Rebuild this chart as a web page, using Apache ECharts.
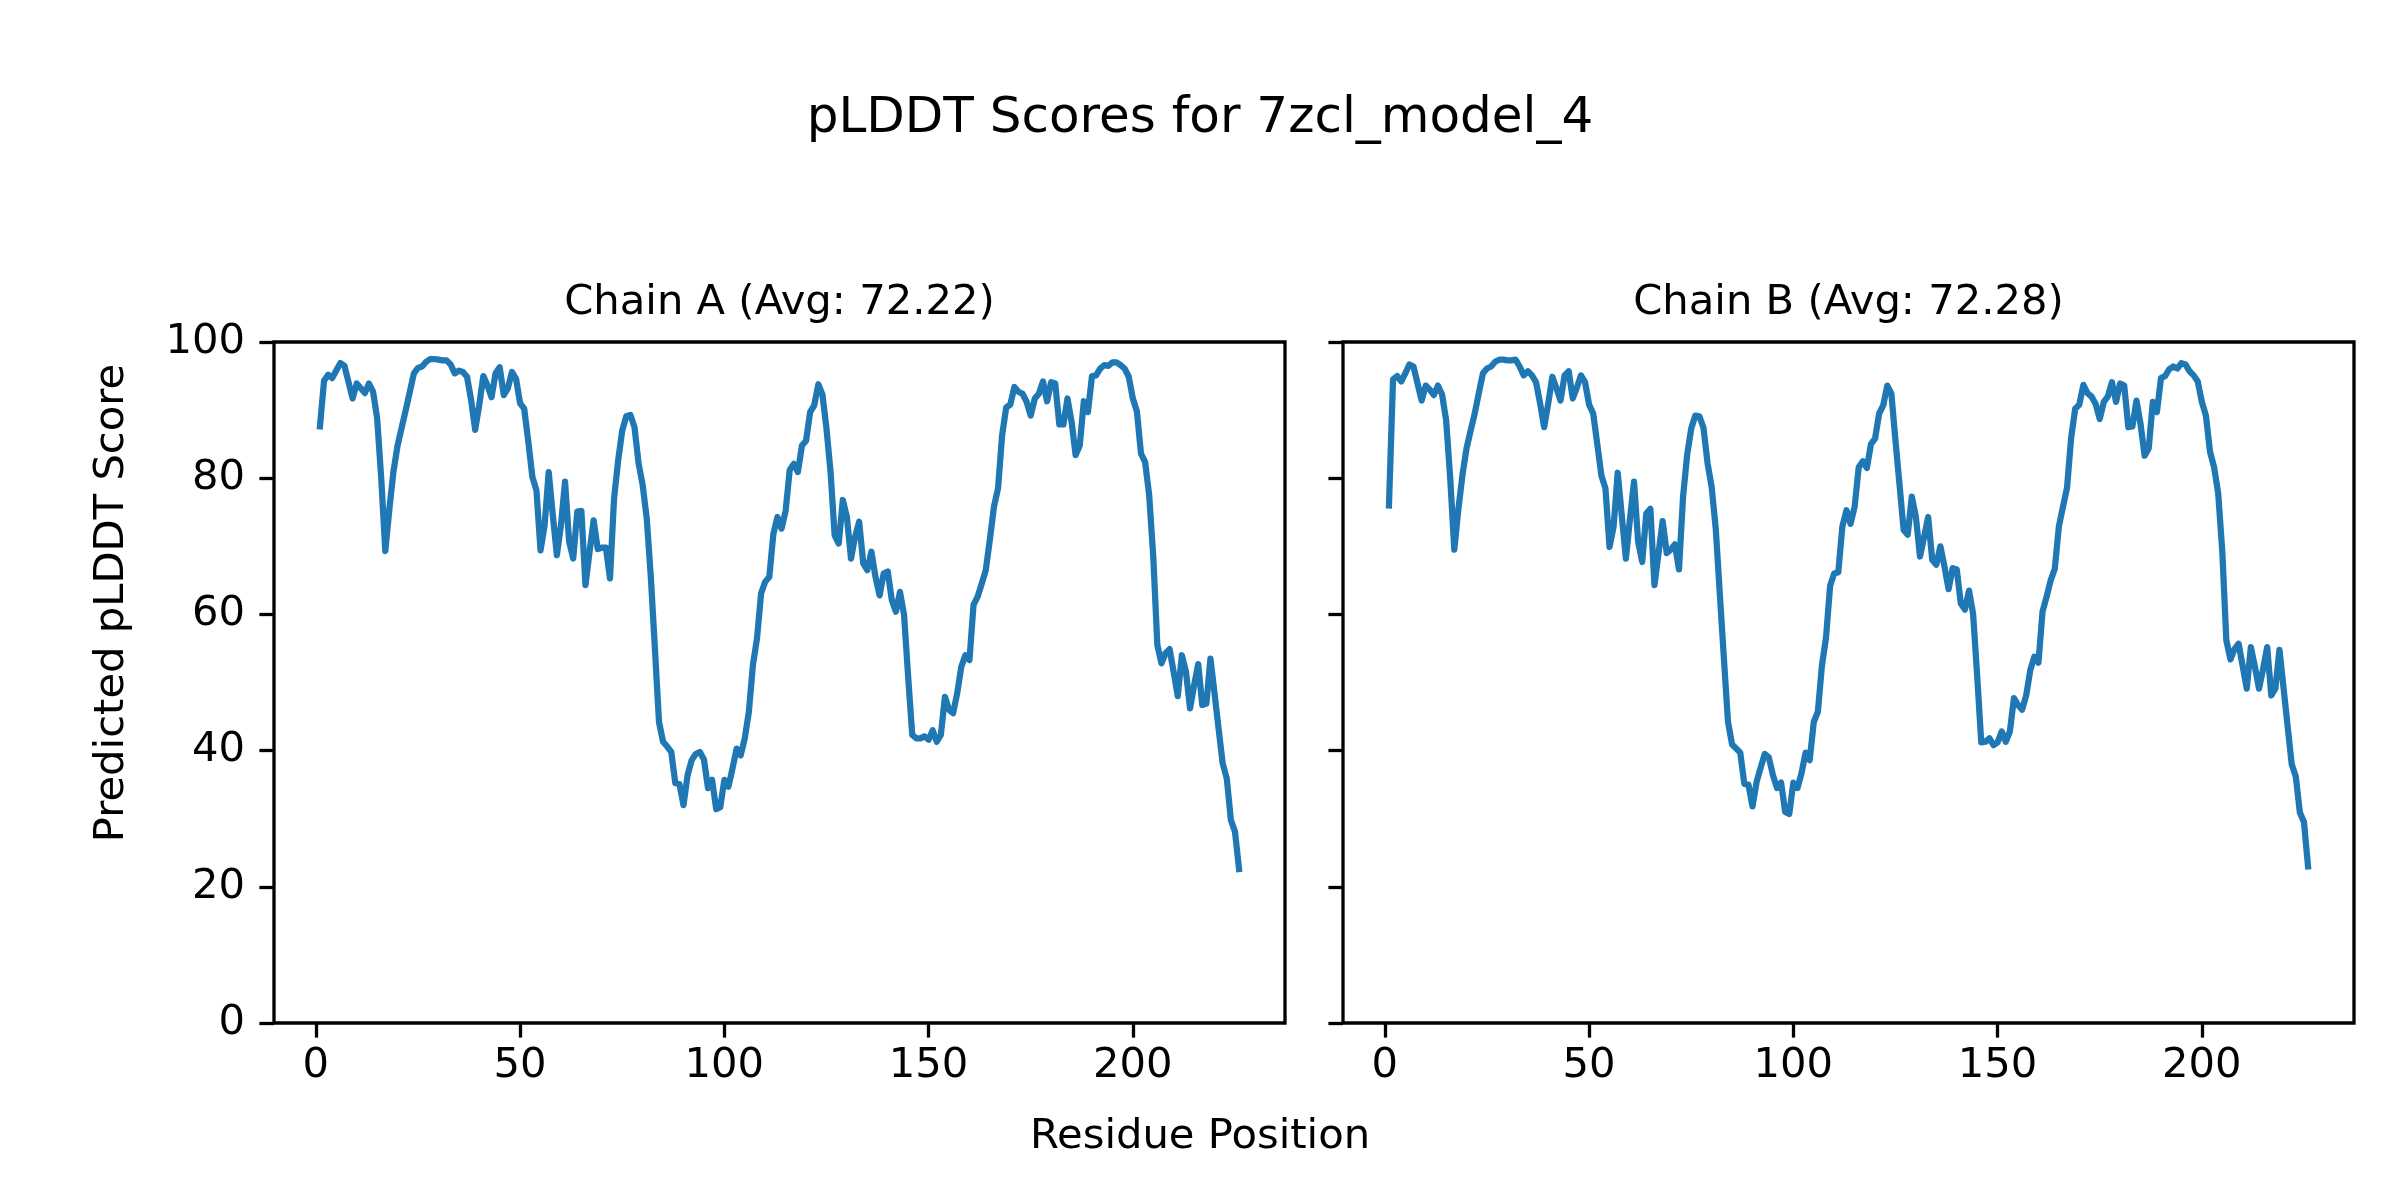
<!DOCTYPE html>
<html>
<head>
<meta charset="utf-8">
<script src="https://cdn.jsdelivr.net/npm/echarts@6/dist/echarts.min.js"></script>
<style>
html,body{margin:0;padding:0;background:#fff;}
#chart{width:2400px;height:1200px;}
</style>
</head>
<body>
<div id="chart"></div>
<script>
const chainA = [87.6,94.3,95.2,94.7,95.8,96.9,96.5,94.1,91.7,93.9,
93.2,92.5,93.9,92.7,88.8,80.0,69.3,75.5,81.0,84.8,
87.4,90.0,92.7,95.4,96.2,96.4,97.1,97.5,97.5,97.4,
97.3,97.3,96.7,95.4,95.8,95.6,94.9,91.5,87.1,90.8,
95.0,93.6,91.9,95.4,96.3,92.2,93.2,95.6,94.6,91.0,
90.2,85.4,80.2,78.2,69.4,73.1,80.9,74.6,68.7,73.1,
79.5,70.7,68.2,75.1,75.2,64.3,69.2,73.8,69.6,69.8,
69.8,65.3,77.0,82.6,87.0,89.1,89.3,87.5,82.2,79.0,
74.1,65.5,55.0,44.2,41.3,40.6,39.8,35.2,35.1,32.0,
36.4,38.6,39.5,39.8,38.7,34.5,35.7,31.4,31.7,35.7,
34.7,37.4,40.3,39.3,41.8,45.7,52.6,56.5,63.1,64.8,
65.5,71.8,74.3,72.6,75.2,81.2,82.1,80.9,84.8,85.5,
89.7,90.7,93.8,92.3,87.3,80.9,71.6,70.4,76.8,74.3,
68.2,71.4,73.6,67.5,66.5,69.2,65.5,62.8,66.0,66.3,
62.1,60.4,63.3,59.9,50.8,42.3,41.8,41.8,42.1,41.6,
43.0,41.3,42.3,47.9,46.0,45.5,48.4,52.3,54.0,53.3,
61.4,62.6,64.5,66.5,71.0,75.8,78.5,86.3,90.4,90.8,
93.4,92.7,92.4,91.2,89.2,91.7,92.4,94.2,91.3,94.1,
93.9,87.9,87.9,91.7,88.3,83.4,84.8,91.3,89.7,95.0,
95.1,96.1,96.6,96.5,97.0,97.0,96.6,96.1,94.9,91.7,
89.8,83.6,82.4,77.5,68.5,55.5,52.8,54.3,54.9,51.5,
48.0,54.0,51.6,46.2,49.6,52.7,46.7,46.9,53.5,48.4,
43.2,38.1,35.9,29.8,28.1,22.6];

const chainB = [76.0,94.5,95.0,94.2,95.4,96.7,96.4,93.9,91.4,93.6,
93.0,92.2,93.6,92.3,88.5,80.0,69.5,75.5,80.5,84.4,
87.0,89.5,92.5,95.4,96.1,96.4,97.1,97.4,97.4,97.3,
97.3,97.4,96.4,95.1,95.7,95.1,94.1,91.0,87.5,91.0,
94.9,93.2,91.4,95.1,95.7,91.7,93.3,95.1,94.1,90.8,
89.5,85.0,80.4,78.5,69.9,72.9,80.8,74.5,68.2,74.0,
79.5,70.7,67.7,74.8,75.5,64.3,69.0,73.7,69.0,69.5,
70.3,66.6,77.3,83.4,87.3,89.2,89.1,87.4,82.2,78.7,
72.6,63.0,53.5,44.2,40.9,40.3,39.7,35.1,35.0,31.8,
35.4,37.5,39.5,39.0,36.4,34.5,35.3,31.0,30.7,35.3,
34.5,36.7,39.7,38.6,44.2,45.7,52.5,56.6,64.2,66.0,
66.2,72.9,75.3,73.3,75.8,81.6,82.5,81.5,85.0,85.8,
89.5,90.7,93.6,92.4,85.5,79.0,72.4,71.7,77.3,74.3,
68.5,71.4,74.3,68.0,67.3,70.0,67.0,63.7,66.8,66.6,
61.6,60.7,63.5,60.1,51.0,41.2,41.3,41.8,40.8,41.2,
42.8,41.3,42.8,47.7,46.7,46.0,48.1,51.8,53.8,52.9,
60.4,62.6,65.0,66.7,72.9,75.8,78.6,85.9,90.2,90.8,
93.7,92.5,92.0,90.9,88.7,91.2,92.0,94.1,91.2,93.9,
93.6,87.5,87.6,91.4,87.9,83.3,84.4,91.2,89.7,94.7,
95.0,96.0,96.4,96.1,96.9,96.7,95.7,95.1,94.2,91.2,
89.2,83.9,81.6,77.8,69.3,56.2,53.4,54.9,55.7,52.4,
49.1,55.2,52.3,49.1,52.0,55.2,48.1,49.1,54.8,49.2,
43.6,38.0,36.2,30.9,29.5,23.0];

const xTickValues = [0, 50, 100, 150, 200];
const yTickValues = [0, 20, 40, 60, 80, 100];
const suptitle = 'pLDDT Scores for 7zcl_model_4';
const chainTitles = ['Chain A (Avg: 72.22)', 'Chain B (Avg: 72.28)'];
const xLabel = 'Residue Position';
const yLabel = 'Predicted pLDDT Score';

const FONT = '"DejaVu Sans", sans-serif';
const FS = 41.7;
const GRID_TOP = 342, GRID_H = 681, GRID_W = 1011;
const GRID_LEFTS = [274, 1343];
const N = chainA.length;
const xMin = 1 - 0.05 * (N - 1), xMax = N + 0.05 * (N - 1);

const chart = echarts.init(document.getElementById('chart'), null, {renderer: 'canvas'});

function xAxisFor(i) {
  return {
    type: 'value', gridIndex: i, min: xMin, max: xMax, position: 'bottom',
    axisLine: {show: false, onZero: false},
    splitLine: {show: false},
    axisTick: {show: true, inside: false, length: 14.6, customValues: xTickValues,
      lineStyle: {color: '#000', width: 3.3}},
    axisLabel: {show: true, margin: 22, customValues: xTickValues,
      color: '#000', fontSize: FS, fontFamily: FONT}
  };
}
function yAxisFor(i) {
  return {
    type: 'value', gridIndex: i, min: 0, max: 100, position: 'left',
    axisLine: {show: false, onZero: false},
    splitLine: {show: false},
    axisTick: {show: true, inside: false, length: 14.6, customValues: yTickValues,
      lineStyle: {color: '#000', width: 3.3}},
    axisLabel: {show: i === 0, margin: 29, customValues: yTickValues,
      color: '#000', fontSize: FS, fontFamily: FONT}
  };
}
function toPairs(arr) { return arr.map((v, i) => [i + 1, v]); }

const option = {
  animation: false,
  backgroundColor: '#ffffff',
  grid: GRID_LEFTS.map(l => ({
    left: l, top: GRID_TOP, width: GRID_W, height: GRID_H,
    show: true, borderColor: '#000', borderWidth: 3.3, backgroundColor: 'transparent',
    containLabel: false
  })),
  xAxis: [xAxisFor(0), xAxisFor(1)],
  yAxis: [yAxisFor(0), yAxisFor(1)],
  series: [chainA, chainB].map((arr, i) => ({
    type: 'line', xAxisIndex: i, yAxisIndex: i,
    data: toPairs(arr), showSymbol: false, symbol: 'none',
    lineStyle: {color: '#1f77b4', width: 6.25, join: 'round', cap: 'square'},
    z: 1
  })),
  graphic: [
    {type: 'text', x: 1200, y: 119, style: {text: suptitle, font: '50px ' + FONT,
      fill: '#000', textAlign: 'center', textVerticalAlign: 'middle'}},
    {type: 'text', x: GRID_LEFTS[0] + GRID_W / 2, y: 303, style: {text: chainTitles[0],
      font: FS + 'px ' + FONT, fill: '#000', textAlign: 'center', textVerticalAlign: 'middle'}},
    {type: 'text', x: GRID_LEFTS[1] + GRID_W / 2, y: 303, style: {text: chainTitles[1],
      font: FS + 'px ' + FONT, fill: '#000', textAlign: 'center', textVerticalAlign: 'middle'}},
    {type: 'text', x: 1200, y: 1137, style: {text: xLabel, font: FS + 'px ' + FONT,
      fill: '#000', textAlign: 'center', textVerticalAlign: 'middle'}},
    {type: 'text', x: 112, y: 603, rotation: Math.PI / 2, style: {text: yLabel,
      font: FS + 'px ' + FONT, fill: '#000', textAlign: 'center', textVerticalAlign: 'middle'}}
  ]
};
chart.setOption(option);
</script>
</body>
</html>
